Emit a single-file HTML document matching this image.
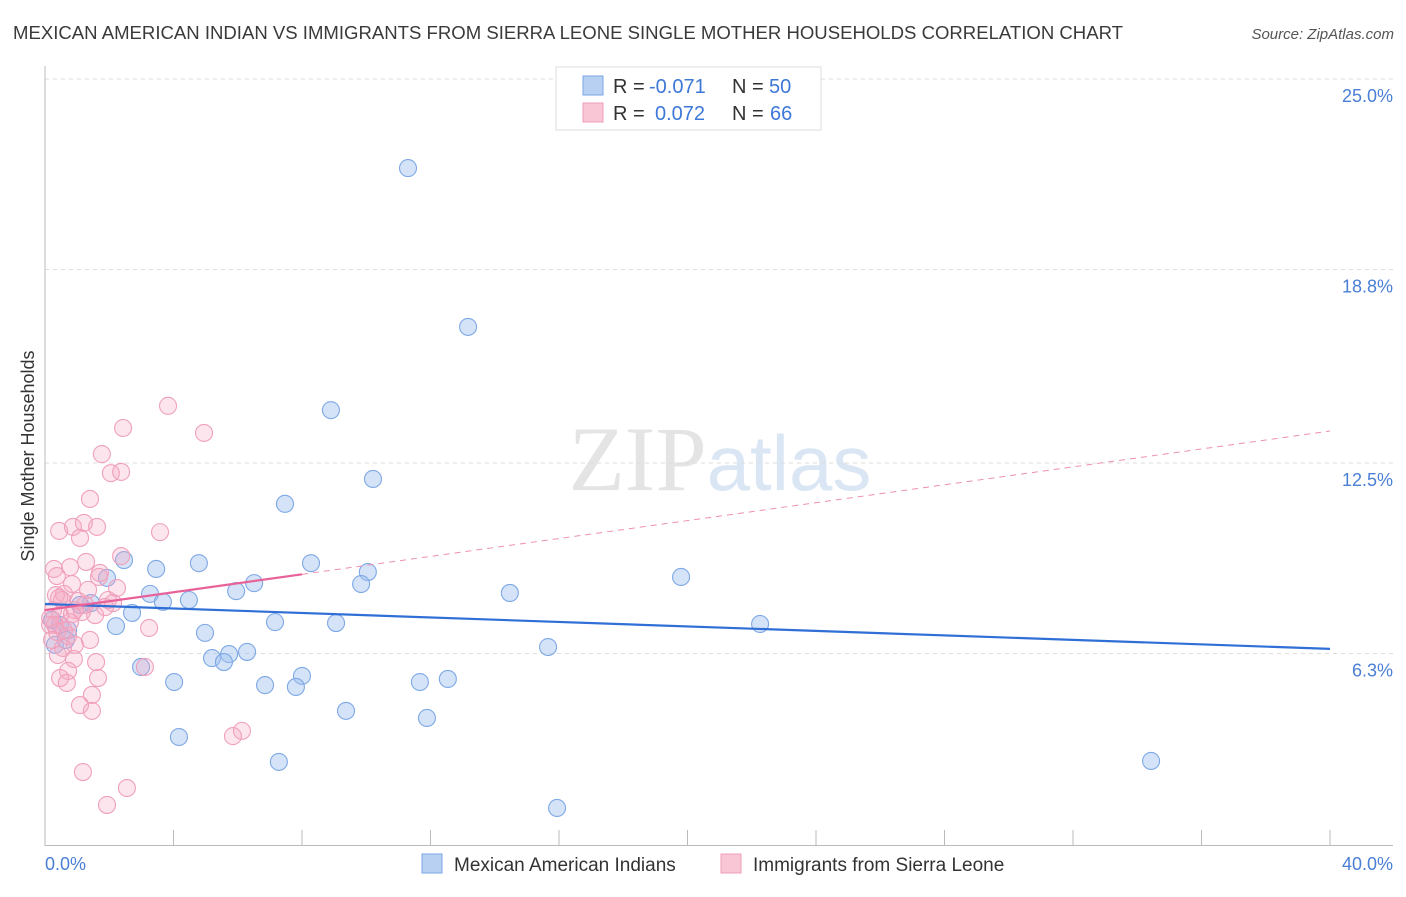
<!DOCTYPE html>
<html><head><meta charset="utf-8"><style>
body{margin:0;background:#fff;font-family:"Liberation Sans",sans-serif;}
</style></head><body>
<svg id="chart" width="1406" height="892" xmlns="http://www.w3.org/2000/svg" font-family="Liberation Sans, sans-serif">
<text x="13" y="39" font-size="18" fill="#3a3a3a" textLength="1110" lengthAdjust="spacingAndGlyphs">MEXICAN AMERICAN INDIAN VS IMMIGRANTS FROM SIERRA LEONE SINGLE MOTHER HOUSEHOLDS CORRELATION CHART</text>
<text x="1394" y="39" font-size="15" fill="#555" font-style="italic" text-anchor="end">Source: ZipAtlas.com</text>
<text x="720" y="490" font-size="92" text-anchor="middle" fill="#e4e4e4"><tspan font-family="Liberation Serif, serif">ZIP</tspan><tspan fill="#dbe6f5" font-size="78">atlas</tspan></text>
<g id="grid"></g>
<g id="axes"></g>
<g id="marks"></g>
<g id="trend"></g>
<text transform="translate(34,456) rotate(-90)" font-size="18" fill="#333" text-anchor="middle">Single Mother Households</text>
<text x="45" y="870" font-size="18" fill="#4a7fd6">0.0%</text>
<text x="1393" y="870" font-size="18" fill="#4a7fd6" text-anchor="end">40.0%</text>
<g font-size="20">
<rect x="556" y="67" width="265" height="63" fill="#fff" stroke="#ddd"/>
<rect x="583" y="76" width="20" height="19" fill="#b8d0f2" stroke="#7aa6e6"/>
<rect x="583" y="103" width="20" height="19" fill="#f9c6d6" stroke="#ef9cb8"/>
<text x="613" y="93" fill="#333">R =</text>
<text x="649" y="93" fill="#3d78d8">-0.071</text>
<text x="732" y="93" fill="#333">N =</text>
<text x="769" y="93" fill="#3d78d8">50</text>
<text x="613" y="120" fill="#333">R =</text>
<text x="655" y="120" fill="#3d78d8">0.072</text>
<text x="732" y="120" fill="#333">N =</text>
<text x="770" y="120" fill="#3d78d8">66</text>
</g>
<g>
<rect x="422" y="854" width="20" height="19" fill="#b8d0f2" stroke="#7aa6e6"/>
<text x="454" y="871" font-size="19" fill="#333">Mexican American Indians</text>
<rect x="721" y="854" width="20" height="19" fill="#f9c6d6" stroke="#ef9cb8"/>
<text x="753" y="871" font-size="19" fill="#333">Immigrants from Sierra Leone</text>
</g>
</svg>
<script>
const yTicks=[6.3,12.5,18.8,25.0];
const yTickLabels=["6.3%","12.5%","18.8%","25.0%"];
const blueX=[11.3,13.17,8.9,10.21,7.47,4.79,8.28,3.46,10.05,2.46,1.93,6.51,5.95,9.84,19.8,3.27,14.47,4.48,3.67,1.43,2.71,2.21,7.16,9.06,22.26,4.98,15.66,2.99,5.2,5.73,6.29,5.57,4.02,8.0,6.85,7.81,11.67,12.54,9.37,11.89,4.17,7.28,34.43,15.94,0.31,0.47,0.72,0.22,1.09,0.65];
const blueY=[22.1,16.93,14.22,11.98,11.17,9.24,9.24,9.05,8.95,9.34,8.76,8.59,8.33,8.56,8.79,8.24,8.27,8.04,7.98,7.94,7.62,7.19,7.32,7.29,7.26,6.97,6.51,5.86,6.15,6.28,6.35,6.02,5.37,5.57,5.27,5.21,5.37,5.47,4.43,4.2,3.58,2.77,2.8,1.27,6.58,7.23,7.06,7.39,7.88,6.74];
const pinkX=[3.83,2.43,4.95,1.77,2.05,2.37,1.4,0.44,0.87,1.21,1.62,1.09,3.58,0.28,0.37,0.84,1.28,2.37,1.68,0.59,1.03,1.96,2.24,0.34,0.25,0.47,0.84,1.25,1.56,2.12,3.24,0.16,0.37,0.72,0.93,0.56,0.4,0.9,1.59,3.11,0.72,0.47,0.68,1.46,1.09,1.46,1.65,6.13,5.85,1.18,2.55,1.93,0.31,0.16,0.53,0.78,1.34,1.71,0.93,0.22,0.59,1.4,0.44,1.15,0.78,1.87];
const pinkY=[14.36,13.64,13.48,12.79,12.17,12.21,11.33,10.29,10.42,10.55,10.42,10.06,10.25,9.05,8.82,8.56,9.28,9.47,8.79,8.24,8.01,8.04,8.43,8.2,7.71,7.55,7.58,7.88,7.55,7.94,7.13,7.23,7.0,6.87,6.58,6.48,6.25,6.12,6.02,5.86,5.73,5.5,5.34,4.95,4.62,4.43,5.5,3.78,3.61,2.44,1.92,1.37,7.23,7.45,8.04,9.11,8.37,8.92,7.71,6.74,7.06,6.74,8.11,7.65,7.32,7.81];
const blueTrend=[7.91,6.45];
const pinkTrend=[7.71,13.54];
const pinkSolidEnd=8.0;
const NS="http://www.w3.org/2000/svg";
const X=v=>45+v*32.125;
const Y=v=>847-v*30.72;
function mk(tag,attrs,parent){const e=document.createElementNS(NS,tag);for(const k in attrs)e.setAttribute(k,attrs[k]);document.getElementById(parent).appendChild(e);return e;}
yTicks.forEach((t,i)=>{
 const l=mk('line',{x1:45,x2:1393,y1:Y(t),y2:Y(t),stroke:'#ddd','stroke-dasharray':'4,4'},'grid');
 
 
 const tx=mk('text',{x:1393,y:Y(t)+23,'font-size':18,fill:'#4a7fd6','text-anchor':'end'},'grid');
 tx.textContent=yTickLabels[i];
 
 
});
const ax=mk('line',{x1:45,x2:45,y1:66,y2:846,stroke:'#bbb'},'axes');


const bx=mk('line',{x1:45,x2:1393,y1:845.5,y2:845.5,stroke:'#bbb'},'axes');


for(let k=0;k<=10;k++){
 const t=mk('line',{x1:X(k*4),x2:X(k*4),y1:830,y2:846,stroke:'#bbb'},'axes');
 
 
}
blueX.forEach((v,i)=>{
 const c=mk('circle',{cx:X(v),cy:Y(blueY[i]),r:8.5,fill:'rgba(160,192,238,0.45)',stroke:'#7ea8e6','stroke-width':1.1},'marks');
 
 
});
pinkX.forEach((v,i)=>{
 const c=mk('circle',{cx:X(v),cy:Y(pinkY[i]),r:8.5,fill:'rgba(245,170,195,0.3)',stroke:'#f0a0bb','stroke-width':1.1},'marks');
 
 
});
const bt=mk('line',{x1:X(0),y1:Y(blueTrend[0]),x2:X(40),y2:Y(blueTrend[1]),stroke:'#2f6fd6','stroke-width':2.2},'trend');


const pAt=x=>pinkTrend[0]+(pinkTrend[1]-pinkTrend[0])*x/40;
const pd=mk('line',{x1:X(pinkSolidEnd),y1:Y(pAt(pinkSolidEnd)),x2:X(40),y2:Y(pinkTrend[1]),stroke:'#ee8fb0','stroke-width':1,'stroke-dasharray':'6,5'},'trend');


const ps=mk('line',{x1:X(0),y1:Y(pinkTrend[0]),x2:X(pinkSolidEnd),y2:Y(pAt(pinkSolidEnd)),stroke:'#e8629a','stroke-width':2.2},'trend');


</script>
</body></html>
